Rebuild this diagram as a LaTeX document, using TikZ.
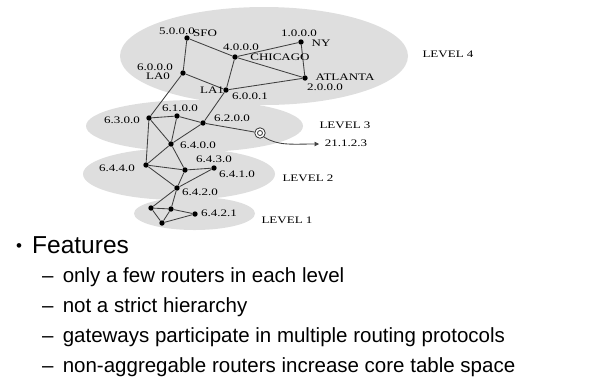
\documentclass[tikz,border=0pt]{standalone}
\usepackage{fontspec}
\setmainfont{Liberation Sans}
\newfontfamily\diag[FakeStretch=1.3]{Liberation Serif}
\usetikzlibrary{arrows.meta}
\begin{document}
\begin{tikzpicture}[x=1pt,y=-1pt,
  region/.style={fill=black!13,draw=none},
  dot/.style={circle,fill=black,inner sep=0pt,minimum size=5.4pt},
  link/.style={draw=black!75,line width=0.85pt},
  lbl/.style={inner sep=0pt,font=\diag\fontsize{10}{10}\selectfont,text=black},
  big/.style={inner sep=0pt,anchor=base west,font=\fontsize{24.5}{28}\selectfont},
  sub/.style={inner sep=0pt,anchor=base west,font=\fontsize{20.5}{24}\selectfont}]
\useasboundingbox (0,0) rectangle (607,384);
% regions
\fill[region] (264,56) ellipse [x radius=144,y radius=49];
\fill[region] (194.5,126) ellipse [x radius=108.5,y radius=26];
\fill[region] (179,174) ellipse [x radius=96,y radius=26];
\fill[region] (194.5,213.5) ellipse [x radius=60.5,y radius=16.5];
% routers
\node[dot] (sfo) at (187,38) {};
\node[dot] (ny) at (301,42) {};
\node[dot] (chi) at (235,57) {};
\node[dot] (lao) at (183,73) {};
\node[dot] (atl) at (305,78) {};
\node[dot] (lai) at (226,90) {};
\node[dot] (r61) at (177,116) {};
\node[dot] (r63) at (149,118) {};
\node[dot] (r62) at (203,123) {};
\node[dot] (r640) at (171,144) {};
\node[dot] (r644) at (146,165) {};
\node[dot] (r643) at (185,170) {};
\node[dot] (r641) at (214,168) {};
\node[dot] (r642) at (177,188) {};
\node[dot] (la) at (151,208) {};
\node[dot] (lb) at (171,209) {};
\node[dot] (lc) at (195,214) {};
\node[dot] (ld) at (162,223) {};
% gateway
\node[circle,draw=black!80,fill=white,line width=0.8pt,inner sep=0pt,minimum size=10.5pt] (gw) at (260,133) {};
\node[circle,draw=black!80,line width=0.8pt,inner sep=0pt,minimum size=5pt] (gwi) at (260,133) {};
\coordinate (tip) at (319,144);
% links
\draw[link] (sfo) -- (lao);
\draw[link] (sfo) -- (chi);
\draw[link] (chi) -- (atl);
\draw[link] (chi) -- (ny);
\draw[link] (ny) -- (atl);
\draw[link] (chi) -- (lai);
\draw[link] (lao) -- (lai);
\draw[link] (lai) -- (atl);
\draw[link] (lao) -- (r63);
\draw[link] (lai) -- (r62);
\draw[link] (r63) -- (r61);
\draw[link] (r61) -- (r62);
\draw[link] (r61) -- (r640);
\draw[link] (r63) -- (r640);
\draw[link] (r62) -- (r640);
\draw[link] (r63) -- (r644);
\draw[link] (r62) -- (gw);
\draw[link,-{Triangle[length=4.5pt,width=4.5pt]}] (gw.south east) .. controls (278,146) and (292,144) .. (tip);
\draw[link] (r640) -- (r644);
\draw[link] (r640) -- (r643);
\draw[link] (r644) -- (r643);
\draw[link] (r643) -- (r641);
\draw[link] (r644) -- (r642);
\draw[link] (r643) -- (r642);
\draw[link] (r641) -- (r642);
\draw[link] (r642) -- (la);
\draw[link] (r642) -- (lb);
\draw[link] (la) -- (lb);
\draw[link] (la) -- (ld);
\draw[link] (lb) -- (ld);
\draw[link] (lb) -- (lc);
\draw[link] (ld) -- (lc);
% labels
\node[lbl] (t1) at (177,31) {5.0.0.0};
\node[lbl] (t2) at (205,33) {SFO};
\node[lbl] (t3) at (299,33) {1.0.0.0};
\node[lbl] (t4) at (321,43) {NY};
\node[lbl] (t5) at (241,47) {4.0.0.0};
\node[lbl] (t6) at (280,57) {CHICAGO};
\node[lbl] (t7) at (155,67) {6.0.0.0};
\node[lbl] (t8) at (158,76) {LA0};
\node[lbl] (t9) at (345,77) {ATLANTA};
\node[lbl] (t10) at (325,87) {2.0.0.0};
\node[lbl] (t11) at (212,90) {LA1};
\node[lbl] (t12) at (250,96) {6.0.0.1};
\node[lbl] (t13) at (180,108) {6.1.0.0};
\node[lbl] (t14) at (122,120) {6.3.0.0};
\node[lbl] (t15) at (232,118) {6.2.0.0};
\node[lbl] (t16) at (198,145) {6.4.0.0};
\node[lbl] (t17) at (214,159) {6.4.3.0};
\node[lbl] (t18) at (117,168) {6.4.4.0};
\node[lbl] (t19) at (237,174) {6.4.1.0};
\node[lbl] (t20) at (200,192) {6.4.2.0};
\node[lbl] (t21) at (219,213) {6.4.2.1};
\node[lbl] (t22) at (346,143) {21.1.2.3};
\node[lbl] (lv4) at (448,54) {LEVEL 4};
\node[lbl] (lv3) at (345,125) {LEVEL 3};
\node[lbl] (lv2) at (308,178) {LEVEL 2};
\node[lbl] (lv1) at (287,220) {LEVEL 1};
% bullet text
\node[inner sep=0pt,anchor=base west,font=\fontsize{17}{17}\selectfont] (b0) at (16,251) {•};
\node[big] (b1) at (32,253) {Features};
\node[sub] (s1) at (42,282) {–\hspace{0.45em}only a few routers in each level};
\node[sub] (s2) at (42,312) {–\hspace{0.45em}not a strict hierarchy};
\node[sub] (s3) at (42,342) {–\hspace{0.45em}gateways participate in multiple routing protocols};
\node[sub] (s4) at (42,372) {–\hspace{0.45em}non-aggregable routers increase core table space};
\end{tikzpicture}
\end{document}
